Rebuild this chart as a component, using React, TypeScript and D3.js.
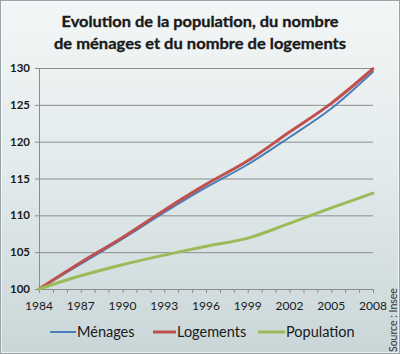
import React from "react";
import * as d3 from "d3";

const years = [1984, 1987, 1990, 1993, 1996, 1999, 2002, 2005, 2008];
const menages = [100, 103.4, 106.8, 110.4, 113.8, 116.9, 120.6, 124.5, 129.5];
const logements = [100, 103.6, 107.0, 110.7, 114.2, 117.4, 121.3, 125.2, 129.9];
const population = [100, 101.8, 103.3, 104.6, 105.8, 106.9, 108.9, 111.0, 113.0];
const yTicks = [100, 105, 110, 115, 120, 125, 130];
const xTickLabels = [1984, 1987, 1990, 1993, 1996, 1999, 2002, 2005, 2008];
const minorYears = d3.range(1984, 2009);
const titleLines = [
  "Evolution de la population, du nombre",
  "de ménages et du nombre de logements",
];
const seriesNames = ["Ménages", "Logements", "Population"];
const seriesColors = ["#4a7ebb", "#c0504d", "#9bbb59"];

export default function App() {
  const W = 400, H = 354;
  const x = d3.scaleLinear().domain([1984, 2008]).range([39, 373]);
  const y = d3.scaleLinear().domain([100, 130]).range([289, 68]);
  const line = d3
    .line<number>()
    .x((_, i) => x(years[i]))
    .y((d) => y(d))
    .curve(d3.curveMonotoneX);
  const series = [menages, logements, population];
  const widths = [2, 3, 3];
  const order = [0, 1, 2];
  const font = "Lato, 'Open Sans', sans-serif";
  const legendItems = [
    { x1: 50, x2: 76, tx: 77 },
    { x1: 153, x2: 176, tx: 177 },
    { x1: 258, x2: 285, tx: 286 },
  ];
  return (
    <svg width={W} height={H} style={{ position: "absolute", left: 0, top: 0 }} fontFamily={font}>
      <defs>
        <linearGradient id="bg" x1="0" y1="0" x2="0" y2="1">
          <stop offset="0" stopColor="#f3f6f6" />
          <stop offset="0.5" stopColor="#e2eaeb" />
          <stop offset="1" stopColor="#c9d6d8" />
        </linearGradient>
      </defs>
      <rect x={0.5} y={0.5} width={W - 1} height={H - 1} fill="url(#bg)" stroke="#9aa3a5" />
      <rect x={1.5} y={1.5} width={W - 3} height={H - 3} fill="none" stroke="#ffffff" strokeOpacity={0.6} />
      {titleLines.map((t, i) => (
        <text
          key={i}
          x={200}
          y={27 + i * 22}
          textAnchor="middle"
          fontWeight="bold"
          fontSize={16}
          fill="#1a1a1a"
          stroke="#1a1a1a"
          strokeWidth={0.35}
          textLength={i === 0 ? 277 : 292}
          lengthAdjust="spacingAndGlyphs"
        >
          {t}
        </text>
      ))}
      {yTicks.map((v) => (
        <g key={v}>
          <line x1={35} x2={373} y1={y(v) + 0.5} y2={y(v) + 0.5} stroke="#8c8c8c" strokeWidth={1} />
          <text x={30} y={y(v) + 4} textAnchor="end" fontWeight="bold" fontSize={11.5} fill="#1a1a1a">
            {v}
          </text>
        </g>
      ))}
      <line x1={x(1984) + 0.5} x2={x(1984) + 0.5} y1={y(130)} y2={y(100)} stroke="#8c8c8c" />
      {minorYears.map((yr) => (
        <line key={yr} x1={x(yr) + 0.5} x2={x(yr) + 0.5} y1={y(100)} y2={y(100) + 4} stroke="#8c8c8c" />
      ))}
      {xTickLabels.map((yr) => (
        <text key={yr} x={x(yr)} y={310} textAnchor="middle" fontSize={12} fill="#1a1a1a">
          {yr}
        </text>
      ))}
      {order.map((i) => (
        <path
          key={i}
          d={line(series[i]) || ""}
          fill="none"
          stroke={seriesColors[i]}
          strokeWidth={widths[i]}
          strokeLinejoin="round"
          strokeLinecap="round"
        />
      ))}
      {legendItems.map((it, i) => (
        <g key={i}>
          <line x1={it.x1} x2={it.x2} y1={332} y2={332} stroke={seriesColors[i]} strokeWidth={widths[i]} />
          <text x={it.tx} y={337} fontSize={14.5} fill="#1a1a1a">
            {seriesNames[i]}
          </text>
        </g>
      ))}
      <text
        transform="translate(397,352) rotate(-90)"
        fontSize={10.5}
        fill="#333"
      >
        Source : Insee
      </text>
    </svg>
  );
}
